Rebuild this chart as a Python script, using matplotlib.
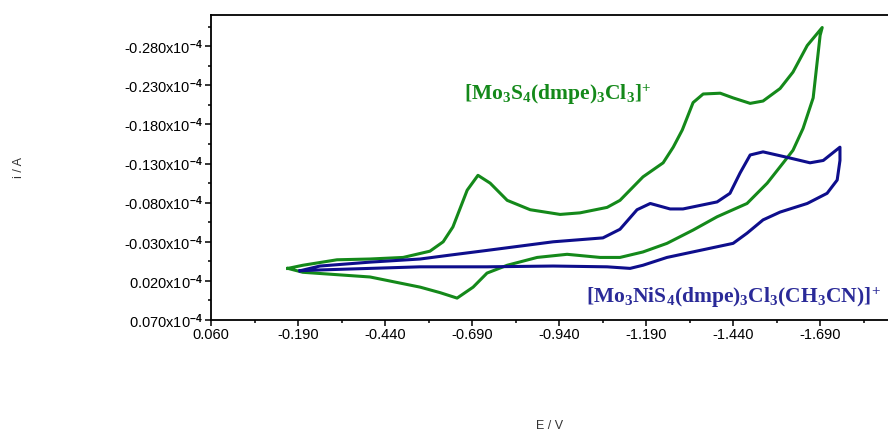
import matplotlib
matplotlib.use("Agg")
import matplotlib.pyplot as plt
from matplotlib.ticker import FixedLocator

# Cyclic voltammograms, current in units of 1e-4 A (negative = cathodic, drawn upward)
green_E = [-0.161, -0.204, -0.302, -0.397, -0.492, -0.569, -0.607, -0.635, -0.676, -0.707,
           -0.742, -0.791, -0.857, -0.943, -1.000, -1.078, -1.115, -1.181, -1.239, -1.268,
           -1.294, -1.325, -1.354, -1.403, -1.440, -1.489, -1.526, -1.575, -1.612, -1.653,
           -1.696,
           -1.690, -1.670, -1.641, -1.612, -1.584, -1.538, -1.480, -1.394, -1.325, -1.250,
           -1.181, -1.115, -1.058, -0.963, -0.877, -0.791, -0.733, -0.693, -0.647, -0.598,
           -0.541, -0.397, -0.204, -0.161]
green_i = [0.004, 0.000, -0.007, -0.008, -0.010, -0.018, -0.030, -0.049, -0.096, -0.115,
           -0.105, -0.083, -0.071, -0.065, -0.067, -0.074, -0.083, -0.113, -0.131, -0.151,
           -0.173, -0.208, -0.219, -0.220, -0.214, -0.207, -0.210, -0.226, -0.247, -0.281,
           -0.304,
           -0.294, -0.214, -0.175, -0.147, -0.131, -0.105, -0.079, -0.062, -0.045, -0.028,
           -0.017, -0.010, -0.010, -0.014, -0.010, 0.000, 0.010, 0.028, 0.042, 0.035,
           0.028, 0.015, 0.009, 0.004]

blue_E = [-0.196, -0.253, -0.397, -0.541, -0.627, -0.733, -0.923, -1.066, -1.115, -1.164,
          -1.202, -1.259, -1.296, -1.394, -1.431, -1.460, -1.489, -1.526, -1.595, -1.661,
          -1.699, -1.747,
          -1.747, -1.739, -1.710, -1.653, -1.575, -1.526, -1.480, -1.440, -1.345, -1.250,
          -1.181, -1.144, -1.078, -0.923, -0.733, -0.541, -0.397, -0.253, -0.196]
blue_i = [0.007, 0.001, -0.004, -0.008, -0.013, -0.019, -0.030, -0.035, -0.046, -0.071,
          -0.079, -0.072, -0.072, -0.081, -0.092, -0.118, -0.141, -0.145, -0.138, -0.131,
          -0.134, -0.151,
          -0.134, -0.109, -0.092, -0.079, -0.068, -0.058, -0.041, -0.028, -0.019, -0.010,
          0.000, 0.004, 0.002, 0.001, 0.002, 0.002, 0.004, 0.006, 0.007]

x_ticks = [0.060, -0.190, -0.440, -0.690, -0.940, -1.190, -1.440, -1.690]
x_tick_labels = ["0.060", "-0.190", "-0.440", "-0.690", "-0.940", "-1.190", "-1.440", "-1.690"]
y_ticks = [-0.280, -0.230, -0.180, -0.130, -0.080, -0.030, 0.020, 0.070]
y_tick_labels = ["-0.280", "-0.230", "-0.180", "-0.130", "-0.080", "-0.030", "0.020", "0.070"]

green_label = r"$\mathbf{[Mo_3S_4(dmpe)_3Cl_3]^{\!+}}$"
blue_label = r"$\mathbf{[Mo_3NiS_4(dmpe)_3Cl_3(CH_3CN)]^{\!+}}$"

GREEN = "#14891a"
BLUE = "#0e0e8c"

plt.rcParams["font.family"] = ["Liberation Sans", "DejaVu Sans"]
plt.rcParams["mathtext.fontset"] = "custom"
plt.rcParams["mathtext.rm"] = "Liberation Sans:bold"
plt.rcParams["mathtext.it"] = "Liberation Sans:bold"
plt.rcParams["mathtext.bf"] = "Liberation Serif:bold"

W, H = 888, 432
fig = plt.figure(figsize=(W / 100, H / 100), dpi=100)
ax = fig.add_axes([211 / W, 1 - 320 / H, 1 - 211 / W, (320 - 15) / H])

ax.plot(green_E, green_i, color=GREEN, lw=2.2, solid_joinstyle="round")
ax.plot(blue_E, blue_i, color=BLUE, lw=2.2, solid_joinstyle="round")

ax.set_xlim(0.060, -1.885)
ax.set_ylim(0.070, -0.320)

ax.xaxis.set_major_locator(FixedLocator(x_ticks))
ax.set_xticklabels(x_tick_labels)
ax.xaxis.set_minor_locator(FixedLocator([t - 0.125 for t in x_ticks]))
ax.yaxis.set_major_locator(FixedLocator(y_ticks))
ax.set_yticklabels([s + r"x10$^{-4}$" for s in y_tick_labels])
ax.yaxis.set_minor_locator(FixedLocator([t - 0.025 for t in y_ticks]))

ax.tick_params(which="major", direction="out", length=4, width=1.1, labelsize=10.5,
               pad=2, colors="black")
ax.tick_params(which="minor", direction="out", length=2.5, width=1.1)
ax.spines["right"].set_visible(False)
for s in ("left", "bottom", "top"):
    ax.spines[s].set_linewidth(1.3)

fig.text(558 / W, 1 - 100 / H, green_label, color=GREEN, fontsize=15.5,
         ha="center", va="baseline")
fig.text(733 / W, 1 - 303 / H, blue_label, color="#2a2a98", fontsize=15.5,
         ha="center", va="baseline")

fig.text(19 / W, 1 - 168 / H, "i / A", rotation=90, fontsize=9, color="#333333",
         ha="center", va="center")
fig.text(550 / W, 1 - 420 / H, "E / V", fontsize=9, color="#333333",
         ha="center", va="top")

fig.savefig("out.png", dpi=100)
